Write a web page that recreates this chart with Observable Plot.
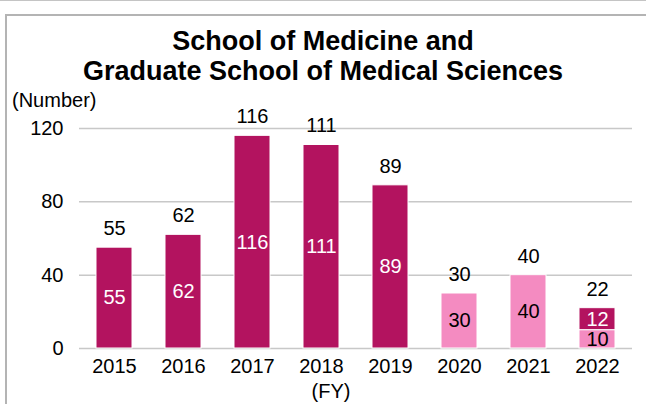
<!DOCTYPE html>
<html>
<head>
<meta charset="utf-8">
<script src="https://cdn.jsdelivr.net/npm/d3@7"></script>
<script src="https://cdn.jsdelivr.net/npm/@observablehq/plot@0.6"></script>
<style>
  html, body { margin: 0; padding: 0; background: #fff; }
  #wrap { position: relative; width: 646px; height: 404px; overflow: hidden; font-family: "Liberation Sans", Arial, sans-serif; }
  #topline { position: absolute; left: 0; top: 0; width: 646px; height: 1px; background: #c4c4c4; }
  #box { position: absolute; left: 5px; top: 14px; width: 700px; height: 500px; border-left: 2px solid #b4b4b4; border-top: 2px solid #b4b4b4; }
  #title { position: absolute; left: 0; width: 646px; top: 26px; text-align: center; font-weight: bold; font-size: 27px; line-height: 30px; color: #000; }
  #ylabel { position: absolute; left: 12px; top: 89px; font-size: 20px; color: #000; }
  #xlabel { position: absolute; left: 0; width: 646px; text-align: center; padding-left: 16px; box-sizing: border-box; top: 380px; font-size: 20px; color: #000; }
  #chart { position: absolute; left: 0; top: 0; }
</style>
</head>
<body>
<div id="wrap">
  <div id="topline"></div>
  <div id="box"></div>
  <div id="chart"></div>
  <div id="title">School of Medicine and<br>Graduate School of Medical Sciences</div>
  <div id="ylabel">(Number)</div>
  <div id="xlabel">(FY)</div>
</div>
<script>
const years = ["2015", "2016", "2017", "2018", "2019", "2020", "2021", "2022"];
const darkSeries = [55, 62, 116, 111, 89, 0, 0, 12];
const pinkSeries = [0, 0, 0, 0, 0, 30, 40, 10];
const yTicks = [0, 40, 80, 120];
const darkColor = "#B3135F";
const pinkColor = "#F48BC1";

const rows = [];
years.forEach((year, i) => {
  if (pinkSeries[i] > 0) rows.push({year, series: "pink", value: pinkSeries[i]});
  if (darkSeries[i] > 0) rows.push({year, series: "dark", value: darkSeries[i]});
});
const order = ["pink", "dark"];
const fs = 20;

const chart = Plot.plot({
  width: 646,
  height: 404,
  marginTop: 128,
  marginBottom: 56,
  marginLeft: 79,
  marginRight: 14,
  style: {fontFamily: "'Liberation Sans', Arial, sans-serif", fontSize: fs + "px", color: "#000", background: "transparent", overflow: "visible"},
  x: {domain: years, paddingInner: 0.48, paddingOuter: 0.24, label: null},
  y: {domain: [0, 120], label: null},
  color: {domain: ["pink", "dark"], range: [pinkColor, darkColor]},
  marks: [
    Plot.ruleY(yTicks, {stroke: "#c8c8c8", strokeWidth: 1.5}),
    Plot.barY(rows, Plot.stackY({x: "year", y: "value", fill: "series", z: "series", order, stroke: "white", strokeWidth: 1})),
    Plot.text(rows, Plot.stackY({x: "year", y: "value", z: "series", order,
      text: d => d.series === "dark" ? String(d.value) : null, fill: "white", fontSize: fs})),
    Plot.text(rows, Plot.stackY({x: "year", y: "value", z: "series", order,
      text: d => d.series === "pink" ? String(d.value) : null, fill: "black", fontSize: fs})),
    Plot.text(rows, Plot.groupX({y: "sum", text: "sum"}, {x: "year", y: "value", text: "value", dy: -19, fill: "black", fontSize: fs})),
    Plot.axisY({ticks: yTicks, tickSize: 0, tickPadding: 16, label: null, fontSize: fs}),
    Plot.axisX({tickSize: 0, tickPadding: 10, label: null, fontSize: fs})
  ]
});
document.getElementById("chart").appendChild(chart);
</script>
</body>
</html>
